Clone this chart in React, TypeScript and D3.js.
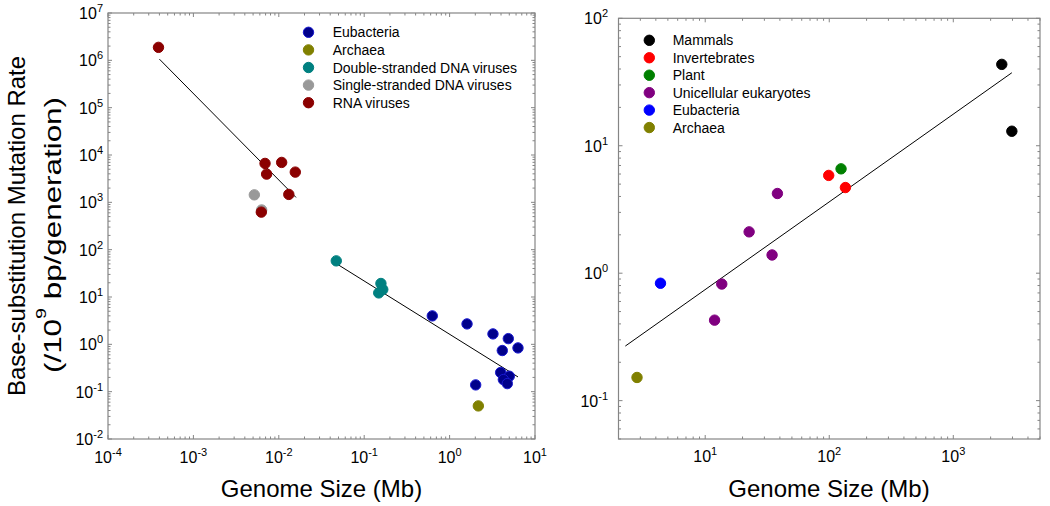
import React from "react";
import * as d3 from "d3";

// ---------- Data ----------
// Left panel: [genome size (Mb), mutation rate (/1e9 bp/gen)]
const eubacteriaL: [number, number][] = [
  [0.627, 3.99], [1.6, 2.7], [3.22, 1.66], [4.87, 1.32], [4.14, 0.74], [6.32, 0.84],
  [3.96, 0.254], [5.0, 0.212], [4.26, 0.18], [4.74, 0.148], [2.02, 0.139],
];
const archaeaL: [number, number][] = [[2.17, 0.05]];
const dsDNAViruses: [number, number][] = [[0.0471, 58], [0.157, 19.3], [0.165, 14.4], [0.148, 12.2]];
const ssDNAViruses: [number, number][] = [[0.00517, 1440], [0.0063, 690]];
const rnaViruses: [number, number][] = [
  [0.00039, 1.88e6], [0.0069, 6640], [0.0072, 3950], [0.0108, 6970], [0.0156, 4350],
  [0.0131, 1470], [0.00624, 621],
];
const fitViruses: [number, number][] = [[0.0004, 1.06e6], [0.0159, 1270]];
const fitDNA: [number, number][] = [[0.0484, 49.3], [6.32, 0.205]];

// Right panel
const mammals: [number, number][] = [[2460, 43.5], [2965, 13.0]];
const invertebrates: [number, number][] = [[99, 5.85], [135, 4.7]];
const plant: [number, number][] = [[124.5, 6.59]];
const unicellular: [number, number][] = [[38.2, 4.22], [22.6, 2.11], [34.6, 1.39], [13.6, 0.822], [11.9, 0.428]];
const eubacteriaR: [number, number][] = [[4.36, 0.834]];
const archaeaR: [number, number][] = [[2.82, 0.152]];
const fitRight: [number, number][] = [[2.27, 0.268], [2965, 37.4]];

const leftXTicks = [-4, -3, -2, -1, 0, 1];
const leftYTicks = [7, 6, 5, 4, 3, 2, 1, 0, -1, -2];
const rightXTicks = [1, 2, 3];
const rightYTicks = [2, 1, 0, -1];

const leftSeries = [
  { name: "Eubacteria", data: eubacteriaL, fill: "#00008b", stroke: "#1a1ad0" },
  { name: "Archaea", data: archaeaL, fill: "#808000", stroke: "#808000" },
  { name: "Double-stranded DNA viruses", data: dsDNAViruses, fill: "#008080", stroke: "#008080" },
  { name: "Single-stranded DNA viruses", data: ssDNAViruses, fill: "#999999", stroke: "#999999" },
  { name: "RNA viruses", data: rnaViruses, fill: "#8b0000", stroke: "#8b0000" },
];
const rightSeries = [
  { name: "Mammals", data: mammals, fill: "#000000", stroke: "#000000" },
  { name: "Invertebrates", data: invertebrates, fill: "#ff0000", stroke: "#ff0000" },
  { name: "Plant", data: plant, fill: "#008000", stroke: "#008000" },
  { name: "Unicellular eukaryotes", data: unicellular, fill: "#800080", stroke: "#800080" },
  { name: "Eubacteria", data: eubacteriaR, fill: "#0000ff", stroke: "#0000ff" },
  { name: "Archaea", data: archaeaR, fill: "#808000", stroke: "#808000" },
];

const FONT = "'Liberation Sans', Arial, Helvetica, sans-serif";
const FRAME = "#858585";

function logTicks(min: number, max: number) {
  const out: { v: number; major: boolean }[] = [];
  const d0 = Math.floor(Math.log10(min));
  const d1 = Math.ceil(Math.log10(max));
  for (let d = d0; d <= d1; d++) {
    for (let k = 1; k <= 9; k++) {
      const v = k * Math.pow(10, d);
      if (v >= min * 0.9999 && v <= max * 1.0001) out.push({ v, major: k === 1 });
    }
  }
  return out;
}

function Pow({ e, x, y, anchor, size = 16 }: { e: number; x: number; y: number; anchor: string; size?: number }) {
  return (
    <text x={x} y={y} textAnchor={anchor} fontFamily={FONT} fontSize={size} fill="#000">
      10
      <tspan dy={-7} fontSize={11}>{String(e)}</tspan>
    </text>
  );
}

function Panel({
  x, y, xLabels, yLabels, series, fits, legend, yLabelX, xLabelY,
}: {
  x: d3.ScaleLogarithmic<number, number>;
  y: d3.ScaleLogarithmic<number, number>;
  xLabels: number[];
  yLabels: number[];
  series: { name: string; data: [number, number][]; fill: string; stroke: string }[];
  fits: [number, number][][];
  legend: { cx: number; cy: number; dy: number; tx: number };
  yLabelX: number;
  xLabelY: number;
}) {
  const [x0, x1] = x.range();
  const [y0, y1] = y.range(); // y0 bottom, y1 top
  const xd = x.domain();
  const yd = y.domain();
  const xt = logTicks(xd[0], xd[1]);
  const yt = logTicks(yd[0], yd[1]);
  const line = d3.line<[number, number]>().x((d) => x(d[0])).y((d) => y(d[1]));
  return (
    <g>
      <rect x={x0} y={y1} width={x1 - x0} height={y0 - y1} fill="none" stroke={FRAME} strokeWidth={1.2} />
      {xt.map((t, i) => {
        const px = x(t.v);
        const L = t.major ? 4 : 2.5;
        return (
          <g key={"xt" + i} stroke={FRAME} strokeWidth={1}>
            <line x1={px} x2={px} y1={y0} y2={y0 - L} />
            <line x1={px} x2={px} y1={y1} y2={y1 + L} />
          </g>
        );
      })}
      {yt.map((t, i) => {
        const py = y(t.v);
        const L = t.major ? 4 : 2.5;
        return (
          <g key={"yt" + i} stroke={FRAME} strokeWidth={1}>
            <line x1={x0} x2={x0 + L} y1={py} y2={py} />
            <line x1={x1} x2={x1 - L} y1={py} y2={py} />
          </g>
        );
      })}
      {xLabels.map((e) => (
        <Pow key={"xl" + e} e={e} x={x(Math.pow(10, e))} y={xLabelY} anchor="middle" />
      ))}
      {yLabels.map((e) => (
        <Pow key={"yl" + e} e={e} x={yLabelX} y={y(Math.pow(10, e)) + 6} anchor="end" />
      ))}
      {fits.map((f, i) => (
        <path key={"f" + i} d={line(f) || ""} fill="none" stroke="#000" strokeWidth={1} />
      ))}
      {series.map((s) =>
        s.data.map((d, i) => (
          <circle key={s.name + i} cx={x(d[0])} cy={y(d[1])} r={5.2} fill={s.fill} stroke={s.stroke} strokeWidth={1} />
        ))
      )}
      {series.map((s, i) => (
        <g key={"lg" + i}>
          <circle cx={legend.cx} cy={legend.cy + i * legend.dy} r={5.2} fill={s.fill} stroke={s.stroke} strokeWidth={1} />
          <text x={legend.tx} y={legend.cy + i * legend.dy + 5} fontFamily={FONT} fontSize={14} fill="#000">
            {s.name}
          </text>
        </g>
      ))}
    </g>
  );
}

export default function App() {
  const xL = d3.scaleLog().domain([1e-4, 10]).range([108, 535]);
  const yL = d3.scaleLog().domain([1e-2, 1e7]).range([439, 13]);
  const xR = d3.scaleLog().domain([2, 5000]).range([618.5, 1040]);
  const yR = d3.scaleLog().domain([0.05, 100]).range([439, 18.3]);

  return (
    <svg
      width={1050}
      height={506}
      viewBox="0 0 1050 506"
      style={{ position: "absolute", left: 0, top: 0, background: "#fff" }}
    >
      <rect x={0} y={0} width={1050} height={506} fill="#fff" />
      <Panel
        x={xL}
        y={yL}
        xLabels={leftXTicks}
        yLabels={leftYTicks}
        series={leftSeries}
        fits={[fitViruses, fitDNA]}
        legend={{ cx: 308.5, cy: 32.3, dy: 17.6, tx: 332.7 }}
        yLabelX={103}
        xLabelY={463}
      />
      <Panel
        x={xR}
        y={yR}
        xLabels={rightXTicks}
        yLabels={rightYTicks}
        series={rightSeries}
        fits={[fitRight]}
        legend={{ cx: 649.3, cy: 40.3, dy: 17.45, tx: 672.7 }}
        yLabelX={608}
        xLabelY={462}
      />
      <text x={321.5} y={497} textAnchor="middle" fontFamily={FONT} fontSize={24} fill="#000">
        Genome Size (Mb)
      </text>
      <text x={829} y={497} textAnchor="middle" fontFamily={FONT} fontSize={24} fill="#000">
        Genome Size (Mb)
      </text>
      <text
        transform="translate(25,226) rotate(-90)"
        textAnchor="middle"
        fontFamily={FONT}
        fontSize={24}
        fill="#000"
      >
        Base-substitution Mutation Rate
      </text>
      <text
        transform="translate(61,235) rotate(-90)"
        textAnchor="middle"
        fontFamily={FONT}
        fontSize={24}
        fill="#000"
        textLength={276}
        lengthAdjust="spacingAndGlyphs"
      >
        (/10
        <tspan dy={-15} fontSize={15}>9</tspan>
        <tspan dy={15}> bp/generation)</tspan>
      </text>
    </svg>
  );
}
